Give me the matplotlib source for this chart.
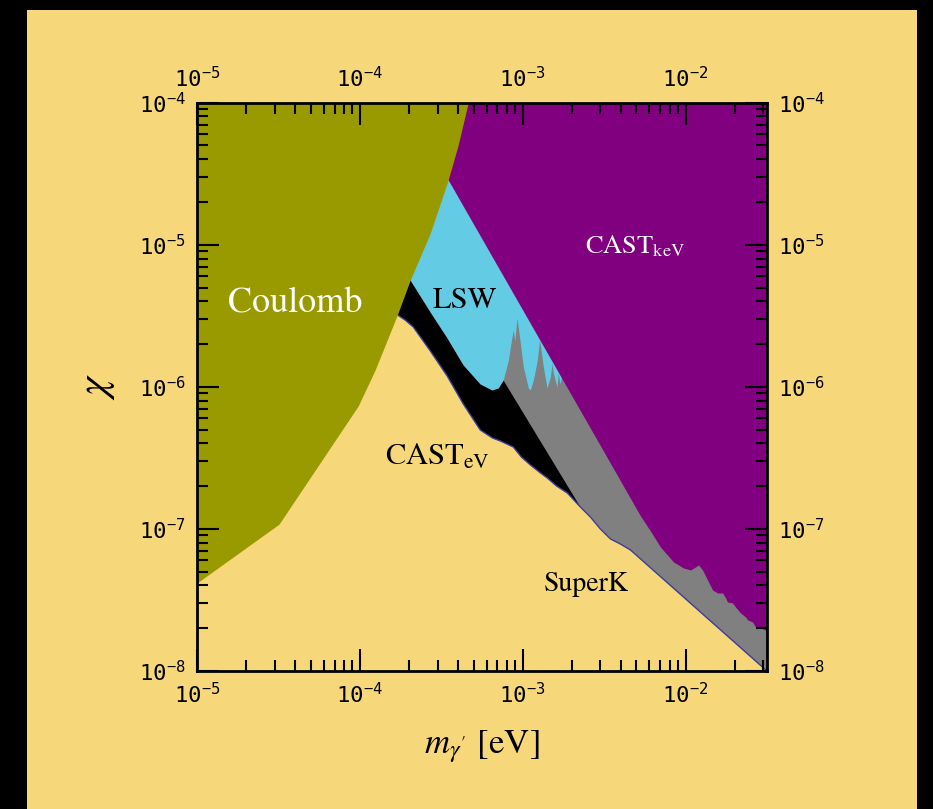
import matplotlib
matplotlib.use('Agg')
import matplotlib.pyplot as plt
from matplotlib.patches import Rectangle
from matplotlib.ticker import NullFormatter
import numpy as np

# --- exclusion boundaries: hidden photon mass m [eV] vs kinetic mixing chi ---
# Coulomb law tests (region to the left of this curve is excluded)
coulomb_m = [1.0e-5, 3.19e-5, 9.77e-5, 1.24e-4, 1.70e-4, 2.04e-4, 2.71e-4, 3.49e-4, 4.02e-4, 4.63e-4]
coulomb_chi = [4.16e-8, 1.08e-7, 7.33e-7, 1.31e-6, 3.21e-6, 5.65e-6, 1.21e-5, 2.86e-5, 5.04e-5, 1.0e-4]

# CAST keV lower edge (excluded above)
castkev_m = [3.49e-4, 3.13e-3, 5.29e-3, 6.09e-3, 7.02e-3, 8.44e-3, 9.72e-3, 1.073e-2, 1.152e-2,
             1.202e-2, 1.272e-2, 1.365e-2, 1.466e-2, 1.573e-2, 1.689e-2, 1.762e-2, 1.811e-2,
             1.945e-2, 2.029e-2, 2.178e-2, 2.338e-2, 2.405e-2, 2.582e-2, 2.694e-2, 2.891e-2,
             3.10e-2, 3.16e-2]
castkev_chi = [2.86e-5, 3.54e-7, 1.233e-7, 9.67e-8, 7.46e-8, 5.85e-8, 5.31e-8, 5.14e-8, 5.40e-8,
               5.58e-8, 5.14e-8, 4.37e-8, 3.72e-8, 3.54e-8, 3.54e-8, 3.27e-8, 3.06e-8,
               3.01e-8, 2.82e-8, 2.56e-8, 2.40e-8, 2.29e-8, 2.21e-8, 2.04e-8, 2.01e-8,
               1.94e-8, 1.74e-8]

# light shining through a wall, lower edge with resonance spikes
lsw_m = [2.04e-4, 2.71e-4, 3.44e-4, 4.32e-4, 5.49e-4, 6.48e-4, 7.08e-4, 7.60e-4, 8.17e-4, 8.60e-4,
         8.76e-4, 8.95e-4, 9.23e-4, 9.67e-4, 1.01e-3, 1.083e-3, 1.115e-3, 1.163e-3, 1.231e-3,
         1.271e-3, 1.297e-3, 1.34e-3, 1.412e-3, 1.479e-3, 1.515e-3, 1.543e-3, 1.626e-3, 1.657e-3,
         1.693e-3, 1.729e-3]
lsw_chi = [5.65e-6, 3.36e-6, 2.21e-6, 1.425e-6, 1.047e-6, 9.50e-7, 9.82e-7, 1.117e-6, 1.546e-6, 2.24e-6,
           2.51e-6, 2.10e-6, 3.05e-6, 2.04e-6, 1.38e-6, 9.82e-7, 9.50e-7, 1.117e-6, 1.546e-6,
           2.14e-6, 1.82e-6, 1.38e-6, 9.82e-7, 1.173e-6, 1.472e-6, 1.252e-6, 9.98e-7, 1.252e-6,
           1.047e-6, 1.154e-6]

# lower edge shared by CAST eV and SuperK
lower_m = [1.70e-4, 1.90e-4, 2.128e-4, 2.71e-4, 3.44e-4, 4.32e-4, 5.49e-4, 6.51e-4, 7.29e-4, 8.76e-4,
           9.81e-4, 1.115e-3, 1.284e-3, 1.418e-3, 1.61e-3, 1.88e-3, 2.26e-3, 2.605e-3, 3.00e-3,
           3.46e-3, 3.98e-3, 4.59e-3, 3.16e-2]
lower_chi = [3.21e-6, 2.95e-6, 2.64e-6, 1.788e-6, 1.192e-6, 7.57e-7, 4.97e-7, 4.37e-7, 4.16e-7, 3.77e-7,
             3.21e-7, 2.82e-7, 2.48e-7, 2.28e-7, 2.01e-7, 1.79e-7, 1.427e-7, 1.213e-7, 9.99e-8,
             8.50e-8, 7.83e-8, 7.11e-8, 1.0e-8]

# CAST eV right edge (between CAST eV and SuperK)
castev_edge_m = [2.26e-3, 7.60e-4]
castev_edge_chi = [1.427e-7, 1.117e-6]

XMIN, XMAX = 1e-5, 10 ** -1.5
YMIN, YMAX = 1e-8, 1e-4

BG = '#f6d87b'

fig = plt.figure(figsize=(9.33, 8.09), dpi=100, facecolor='black')
fig.add_artist(Rectangle((27 / 933, 0), 890 / 933, 799 / 809, transform=fig.transFigure,
                         facecolor=BG, edgecolor='none', zorder=-10))

ax = fig.add_axes([0.2111, 0.1706, 0.6109, 0.7025])
ax.set_facecolor('none')
ax.set_xscale('log')
ax.set_yscale('log')
ax.set_xlim(XMIN, XMAX)
ax.set_ylim(YMIN, YMAX)

# SuperK (grey) underneath everything
ax.fill_between(lower_m, lower_chi, YMAX, color='#808080', lw=0, zorder=1.0)

# CAST eV (black): lower edge, right edge, then back along LSW lower edge
lm, lc = np.array(lower_m), np.array(lower_chi)
wm, wc = np.array(lsw_m), np.array(lsw_chi)
sel = lm <= castev_edge_m[0]
sel_w = wm <= castev_edge_m[1]
bx = np.concatenate([lm[sel], castev_edge_m, wm[sel_w][::-1]])
by = np.concatenate([lc[sel], castev_edge_chi, wc[sel_w][::-1]])
ax.fill(bx, by, color='black', lw=0, zorder=1.1)
ax.plot(lower_m, lower_chi, color='#3c3ca0', lw=1.0, zorder=1.2)

# LSW (light blue)
ax.fill_between(lsw_m, lsw_chi, YMAX, color='#64cbe4', lw=0, zorder=1.3)

# CAST keV (purple)
ax.fill_between(castkev_m, castkev_chi, YMAX, color='#800080', lw=0, zorder=1.4)

# Coulomb (olive)
ax.fill_betweenx(coulomb_chi, XMIN, coulomb_m, color='#999900', lw=0, zorder=1.5)

for s in ax.spines.values():
    s.set_linewidth(2)
    s.set_zorder(10)
ax.xaxis.set_zorder(10)
ax.yaxis.set_zorder(10)

ax.tick_params(which='both', direction='in', top=True, right=True,
               labeltop=True, labelright=True, width=1.5)
ax.tick_params(which='major', length=16, labelsize=16, pad=8,
               labelfontfamily='DejaVu Sans Mono')
ax.tick_params(which='minor', length=8)
ax.xaxis.set_minor_formatter(NullFormatter())
ax.yaxis.set_minor_formatter(NullFormatter())

serif = dict(family='STIXGeneral', math_fontfamily='stix')
ax.text(4.03e-5, 3.31e-6, 'Coulomb', color='white', fontsize=26, ha='center', va='baseline',
        zorder=11, **serif)
ax.text(4.44e-4, 3.59e-6, 'LSW', color='black', fontsize=22, ha='center', va='baseline',
        zorder=11, **serif)
ax.text(2.43e-3, 8.75e-6, r'CAST$_{\rm keV}$', color='white', fontsize=19, ha='left',
        va='baseline', zorder=11, **serif)
ax.text(1.43e-4, 2.82e-7, r'CAST$_{\rm eV}$', color='black', fontsize=22, ha='left',
        va='baseline', zorder=11, **serif)
ax.text(1.34e-3, 3.66e-8, 'SuperK', color='black', fontsize=20, ha='left', va='baseline',
        zorder=11, **serif)

ax.set_xlabel(r"$m_{\gamma'}$ [eV]", fontsize=25, **serif)
ax.xaxis.set_label_coords(0.5, -0.10)
ax.set_ylabel(r'$\chi$', fontsize=30, **serif)
ax.yaxis.set_label_coords(-0.14, 0.5)

fig.savefig('out.png', dpi=100, facecolor='black')
